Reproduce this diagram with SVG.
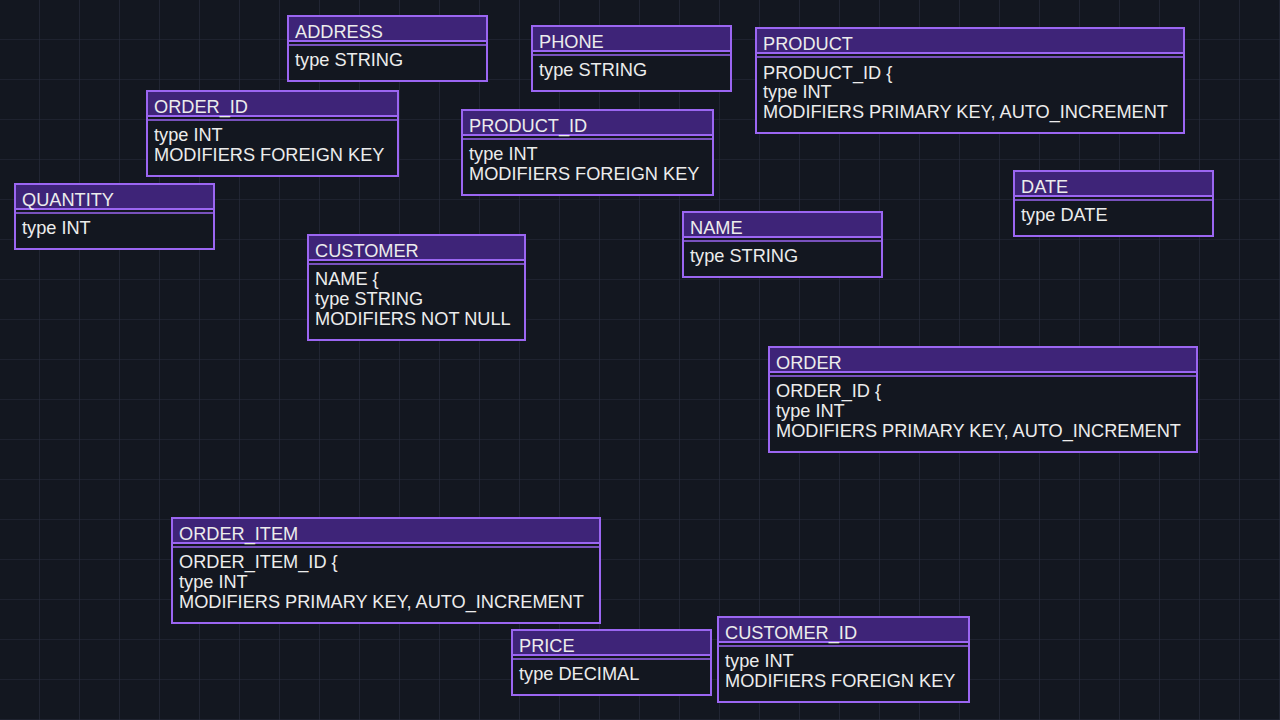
<svg xmlns="http://www.w3.org/2000/svg" width="1280" height="720" viewBox="0 0 1280 720">
  <defs>
    <pattern id="grid" width="40" height="40" patternUnits="userSpaceOnUse">
      <path d="M40 0 V40 M0 40 H40" fill="none" stroke="#292d3e" stroke-width="1.2"/>
    </pattern>
    <style>
      .box { fill: #131720; stroke: #9b66f2; stroke-width: 2; }
      .head { fill: #3e2478; stroke: #9b66f2; stroke-width: 2; }
      .sep { stroke: #9b66f2; stroke-width: 1.5; }
      text { font-family: "Liberation Sans", Arial, sans-serif; font-size: 18.2px; fill: #ececec; }
    </style>
  </defs>

  <!-- background with 40px grid -->
  <rect width="1280" height="720" fill="#131720"/>
  <rect width="1280" height="720" fill="url(#grid)"/>

  <g id="connectors"/>

  <g id="address" transform="translate(288,16)">
    <rect class="box" width="199" height="65"/>
    <rect class="head" width="199" height="25"/>
    <line class="sep" x1="0" y1="29" x2="199" y2="29"/>
    <text x="7" y="22">ADDRESS</text>
    <text x="7" y="50">type STRING</text>
  </g>

  <g id="phone" transform="translate(532,26)">
    <rect class="box" width="199" height="65"/>
    <rect class="head" width="199" height="25"/>
    <line class="sep" x1="0" y1="29" x2="199" y2="29"/>
    <text x="7" y="22">PHONE</text>
    <text x="7" y="50">type STRING</text>
  </g>

  <g id="product" transform="translate(756,28)">
    <rect class="box" width="428" height="105"/>
    <rect class="head" width="428" height="25"/>
    <line class="sep" x1="0" y1="29" x2="428" y2="29"/>
    <text x="7" y="22">PRODUCT</text>
    <text x="7" y="51">PRODUCT_ID {</text>
    <text x="7" y="70">type INT</text>
    <text x="7" y="90">MODIFIERS PRIMARY KEY, AUTO_INCREMENT</text>
  </g>

  <g id="order_id" transform="translate(147,91)">
    <rect class="box" width="251" height="85"/>
    <rect class="head" width="251" height="25"/>
    <line class="sep" x1="0" y1="29" x2="251" y2="29"/>
    <text x="7" y="22">ORDER_ID</text>
    <text x="7" y="50">type INT</text>
    <text x="7" y="70">MODIFIERS FOREIGN KEY</text>
  </g>

  <g id="product_id" transform="translate(462,110)">
    <rect class="box" width="251" height="85"/>
    <rect class="head" width="251" height="25"/>
    <line class="sep" x1="0" y1="29" x2="251" y2="29"/>
    <text x="7" y="22">PRODUCT_ID</text>
    <text x="7" y="50">type INT</text>
    <text x="7" y="70">MODIFIERS FOREIGN KEY</text>
  </g>

  <g id="quantity" transform="translate(15,184)">
    <rect class="box" width="199" height="65"/>
    <rect class="head" width="199" height="25"/>
    <line class="sep" x1="0" y1="29" x2="199" y2="29"/>
    <text x="7" y="22">QUANTITY</text>
    <text x="7" y="50">type INT</text>
  </g>

  <g id="date" transform="translate(1014,171)">
    <rect class="box" width="199" height="65"/>
    <rect class="head" width="199" height="25"/>
    <line class="sep" x1="0" y1="29" x2="199" y2="29"/>
    <text x="7" y="22">DATE</text>
    <text x="7" y="50">type DATE</text>
  </g>

  <g id="name" transform="translate(683,212)">
    <rect class="box" width="199" height="65"/>
    <rect class="head" width="199" height="25"/>
    <line class="sep" x1="0" y1="29" x2="199" y2="29"/>
    <text x="7" y="22">NAME</text>
    <text x="7" y="50">type STRING</text>
  </g>

  <g id="customer" transform="translate(308,235)">
    <rect class="box" width="217" height="105"/>
    <rect class="head" width="217" height="25"/>
    <line class="sep" x1="0" y1="29" x2="217" y2="29"/>
    <text x="7" y="22">CUSTOMER</text>
    <text x="7" y="50">NAME {</text>
    <text x="7" y="70">type STRING</text>
    <text x="7" y="90">MODIFIERS NOT NULL</text>
  </g>

  <g id="order" transform="translate(769,347)">
    <rect class="box" width="428" height="105"/>
    <rect class="head" width="428" height="25"/>
    <line class="sep" x1="0" y1="29" x2="428" y2="29"/>
    <text x="7" y="22">ORDER</text>
    <text x="7" y="50">ORDER_ID {</text>
    <text x="7" y="70">type INT</text>
    <text x="7" y="90">MODIFIERS PRIMARY KEY, AUTO_INCREMENT</text>
  </g>

  <g id="order_item" transform="translate(172,518)">
    <rect class="box" width="428" height="105"/>
    <rect class="head" width="428" height="25"/>
    <line class="sep" x1="0" y1="29" x2="428" y2="29"/>
    <text x="7" y="22">ORDER_ITEM</text>
    <text x="7" y="50">ORDER_ITEM_ID {</text>
    <text x="7" y="70">type INT</text>
    <text x="7" y="90">MODIFIERS PRIMARY KEY, AUTO_INCREMENT</text>
  </g>

  <g id="price" transform="translate(512,630)">
    <rect class="box" width="199" height="65"/>
    <rect class="head" width="199" height="25"/>
    <line class="sep" x1="0" y1="29" x2="199" y2="29"/>
    <text x="7" y="22">PRICE</text>
    <text x="7" y="50">type DECIMAL</text>
  </g>

  <g id="customer_id" transform="translate(718,617)">
    <rect class="box" width="251" height="85"/>
    <rect class="head" width="251" height="25"/>
    <line class="sep" x1="0" y1="29" x2="251" y2="29"/>
    <text x="7" y="22">CUSTOMER_ID</text>
    <text x="7" y="50">type INT</text>
    <text x="7" y="70">MODIFIERS FOREIGN KEY</text>
  </g>
</svg>
